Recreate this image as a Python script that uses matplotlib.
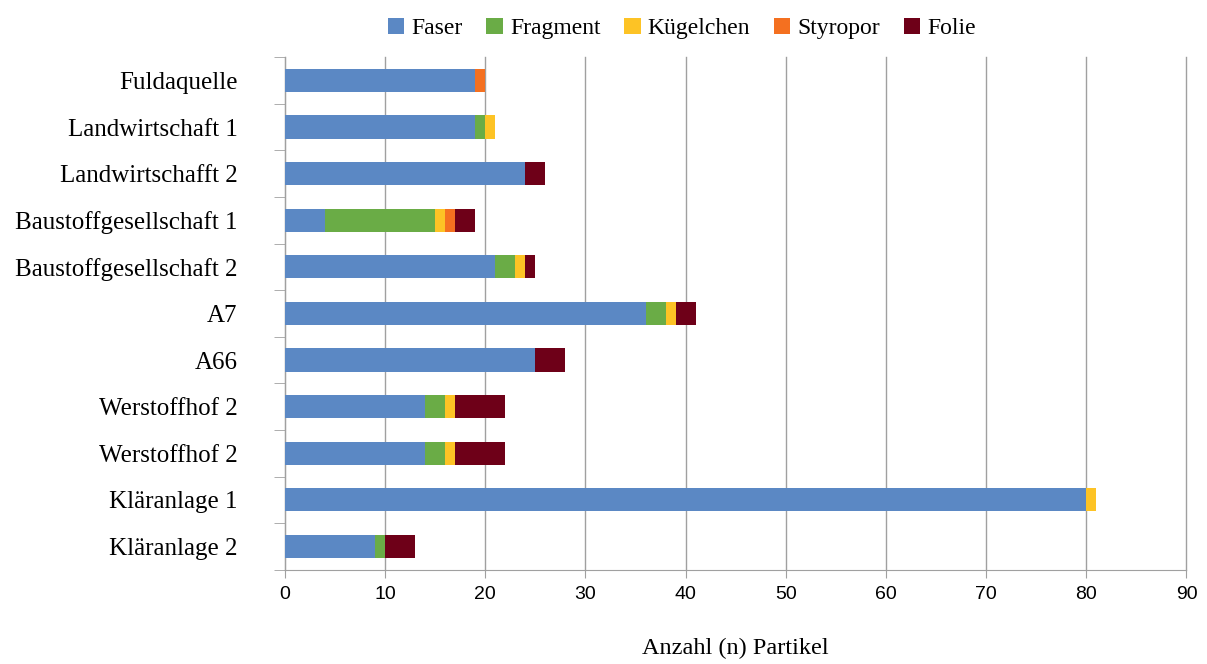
import matplotlib.pyplot as plt
import numpy as np

# sampling sites (top to bottom)
sites = ["Fuldaquelle", "Landwirtschaft 1", "Landwirtschafft 2",
         "Baustoffgesellschaft 1", "Baustoffgesellschaft 2", "A7", "A66",
         "Werstoffhof 2", "Werstoffhof 2", "Kläranlage 1", "Kläranlage 2"]

faser     = [19, 19, 24, 4, 21, 36, 25, 14, 14, 80, 9]
fragment  = [0, 1, 0, 11, 2, 2, 0, 2, 2, 0, 1]
kuegelchen = [0, 1, 0, 1, 1, 1, 0, 1, 1, 1, 0]
styropor  = [1, 0, 0, 1, 0, 0, 0, 0, 0, 0, 0]
folie     = [0, 0, 2, 2, 1, 2, 3, 5, 5, 0, 3]

series = [("Faser", faser, "#5b88c4"),
          ("Fragment", fragment, "#6aac46"),
          ("Kügelchen", kuegelchen, "#fdc325"),
          ("Styropor", styropor, "#f47020"),
          ("Folie", folie, "#6e0018")]

serif = "Liberation Serif"
sans = "Liberation Sans"

fig = plt.figure(figsize=(12.07, 6.64), dpi=100)
ax = fig.add_axes([0.236, 0.142, 0.747, 0.772])

y = np.arange(len(sites))
left = np.zeros(len(sites))
for name, vals, col in series:
    vals = np.array(vals, dtype=float)
    ax.barh(y, vals, left=left, height=0.5, color=col, label=name, zorder=3)
    left += vals

ax.set_ylim(len(sites) - 0.5, -0.5)
ax.set_xlim(0, 90)
ax.set_xticks(np.arange(0, 91, 10))
ax.grid(axis="x", color="#a0a0a0", linewidth=1, zorder=0)
for gl in ax.get_xgridlines():
    gl.set_clip_on(False)

ax.set_yticks(y)
ax.set_yticklabels(sites, fontfamily=serif, fontsize=18)
ax.tick_params(axis="y", which="major", length=0, pad=34)
ax.set_yticks(np.arange(-0.5, len(sites), 1), minor=True)
ax.tick_params(axis="y", which="minor", length=8, color="#a0a0a0", direction="out")
ax.tick_params(axis="x", length=6, color="#a0a0a0", labelsize=14, pad=6)
for lbl in ax.get_xticklabels():
    lbl.set_fontfamily(sans)

for s in ["top", "right"]:
    ax.spines[s].set_visible(False)
for s in ["left", "bottom"]:
    ax.spines[s].set_color("#a0a0a0")

ax.set_xlabel("Anzahl (n) Partikel", fontfamily=serif, fontsize=17.5, labelpad=25)

leg = fig.legend(loc="upper center", bbox_to_anchor=(0.565, 1.005), ncol=5, frameon=False,
                 prop={"family": serif, "size": 17}, handlelength=0.7, handleheight=0.7,
                 handletextpad=0.3, columnspacing=1.0)

fig.savefig("out.png", dpi=100)
